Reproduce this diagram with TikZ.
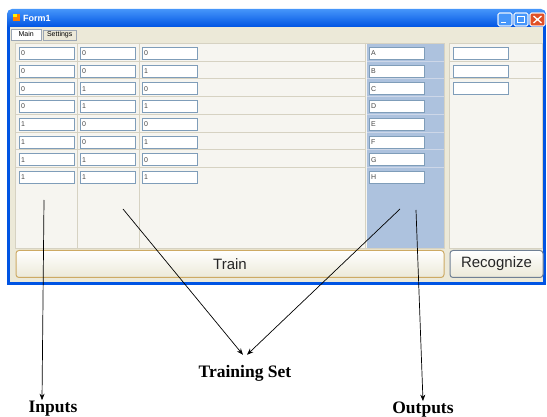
\documentclass[tikz,border=0pt]{standalone}
\usepackage{fontspec}
\setmainfont{Liberation Serif}
\newfontfamily\guifont{Liberation Sans}
\usetikzlibrary{arrows.meta}
\definecolor{xpface}{RGB}{236,233,216}
\definecolor{xppanel}{RGB}{246,245,240}
\definecolor{xpgrid}{RGB}{214,210,194}
\definecolor{xpblue}{RGB}{0,84,227}
\definecolor{xplight}{RGB}{70,150,250}
\definecolor{boxline}{RGB}{127,157,185}
\definecolor{boxtext}{RGB}{70,70,70}
\definecolor{outcol}{RGB}{173,194,222}
\definecolor{outgrid}{RGB}{205,215,232}
\definecolor{goldline}{RGB}{205,170,100}
\definecolor{btnline}{RGB}{112,128,148}
\definecolor{closered}{RGB}{224,80,40}

\begin{document}
\begin{tikzpicture}[x=1pt,y=-1pt,>={Stealth[length=6.5pt,width=5pt]},
    tbox/.style={draw=boxline, fill=white, anchor=north west, minimum height=12pt,
      text width=51pt, inner sep=2pt, align=left, text=boxtext,
      font=\guifont\fontsize{7}{8}\selectfont},
    tab/.style={draw=btnline!70, anchor=south west, minimum height=11pt, inner sep=1pt,
      font=\guifont\fontsize{7}{8}\selectfont},
    btn/.style={rounded corners=3pt, anchor=north west, minimum height=27pt, line width=1pt,
      top color=white, bottom color=xpface, text=black!85,
      font=\guifont\fontsize{15}{18}\selectfont},
    capbtn/.style={draw=white, line width=0.6pt, rounded corners=1.5pt},
    lbl/.style={font=\bfseries\fontsize{17.5}{20}\selectfont, inner sep=1pt},
    pointer/.style={->, line width=0.7pt}]
  \useasboundingbox (0,0) rectangle (547,417);
  % window frame and title bar
  \fill[xpblue] (7,27) rectangle (546,285);
  \fill[xpface] (10,27) rectangle (543,282);
  \shade[top color=xplight, bottom color=xpblue]
    (7,27) [rounded corners=5pt] -- (7,9) -- (546,9) [sharp corners] -- (546,27) -- cycle;
  \fill[orange] (13,14) rectangle (20,21);
  \fill[yellow] (13,14) rectangle (16.5,17.5);
  \node[white, anchor=west, inner sep=0pt, font=\guifont\bfseries\fontsize{9}{10}\selectfont] (title) at (23,18) {Form1};
  \fill[capbtn, fill=xplight] (498,13) rectangle (512,26);
  \fill[capbtn, fill=xplight] (514,13) rectangle (528,26);
  \fill[capbtn, fill=closered] (530,13) rectangle (545,26);
  \draw[capbtn] (498,13) rectangle (512,26) (514,13) rectangle (528,26) (530,13) rectangle (545,26);
  \fill[white] (501,22) rectangle (506,23.5);
  \draw[white, line width=1pt] (517.5,16.5) rectangle (524.5,23);
  \draw[white, line width=1.3pt] (533.5,16) -- (541.5,23) (533.5,23) -- (541.5,16);
  % tabs
  \node[tab, fill=white, minimum width=30pt] (tmain) at (11,40) {Main};
  \node[tab, fill=xpface, minimum width=33pt, minimum height=10pt] (tset) at (43,40) {Settings};
  % training table
  \fill[xppanel] (15,43) rectangle (444,248);
  \fill[outcol] (367,43) rectangle (444,248);
  \draw[xpgrid] (15,43) rectangle (444,248);
  \foreach \k in {1,...,7} {
    \draw[xpgrid] (15,43+17.75*\k) -- (365,43+17.75*\k);
    \draw[outgrid] (367,43+17.75*\k) -- (444,43+17.75*\k);
  }
  \draw[xpgrid] (77,43) -- (77,248) (139,43) -- (139,248) (365,43) -- (365,248);
  \foreach \a/\b/\c/\o [count=\i] in {0/0/0/A,0/0/1/B,0/1/0/C,0/1/1/D,1/0/0/E,1/0/1/F,1/1/0/G,1/1/1/H} {
    \pgfmathsetmacro\yy{47+17.75*(\i-1)}
    \node[tbox] (a\i) at (19,\yy) {\a};
    \node[tbox] (b\i) at (80,\yy) {\b};
    \node[tbox] (c\i) at (142,\yy) {\c};
    \node[tbox] (o\i) at (369,\yy) {\o};
  }
  % recognition panel
  \fill[xppanel] (449,43) rectangle (542,248);
  \draw[xpgrid] (449,43) rectangle (542,248);
  \draw[xpgrid] (449,60.75) -- (542,60.75) (449,78.5) -- (542,78.5);
  \node[tbox] (r1) at (453,47) {};
  \node[tbox] (r2) at (453,64.75) {};
  \node[tbox] (r3) at (453,82.5) {};
  % buttons
  \node[btn, draw=goldline, minimum width=428pt] (train) at (15.5,250) {Train};
  \node[btn, draw=btnline, minimum width=93pt] (recog) at (449.5,250) {Recognize};
  % annotations
  \coordinate (inA) at (44,200);
  \coordinate (tsA) at (123,209);
  \coordinate (tsB) at (400,209);
  \coordinate (outA) at (416,210);
  \node[lbl] (inputs) at (53,409) {Inputs};
  \node[lbl] (trainset) at (245,373) {Training Set};
  \node[lbl] (outputs) at (423,410) {Outputs};
  \draw[pointer] (inA) -- ([xshift=-11pt]inputs.north);
  \draw[pointer] (tsA) -- ([xshift=-2pt,yshift=9pt]trainset.north);
  \draw[pointer] (tsB) -- ([xshift=2pt,yshift=9pt]trainset.north);
  \draw[pointer] (outA) -- (outputs.north);
\end{tikzpicture}
\end{document}
